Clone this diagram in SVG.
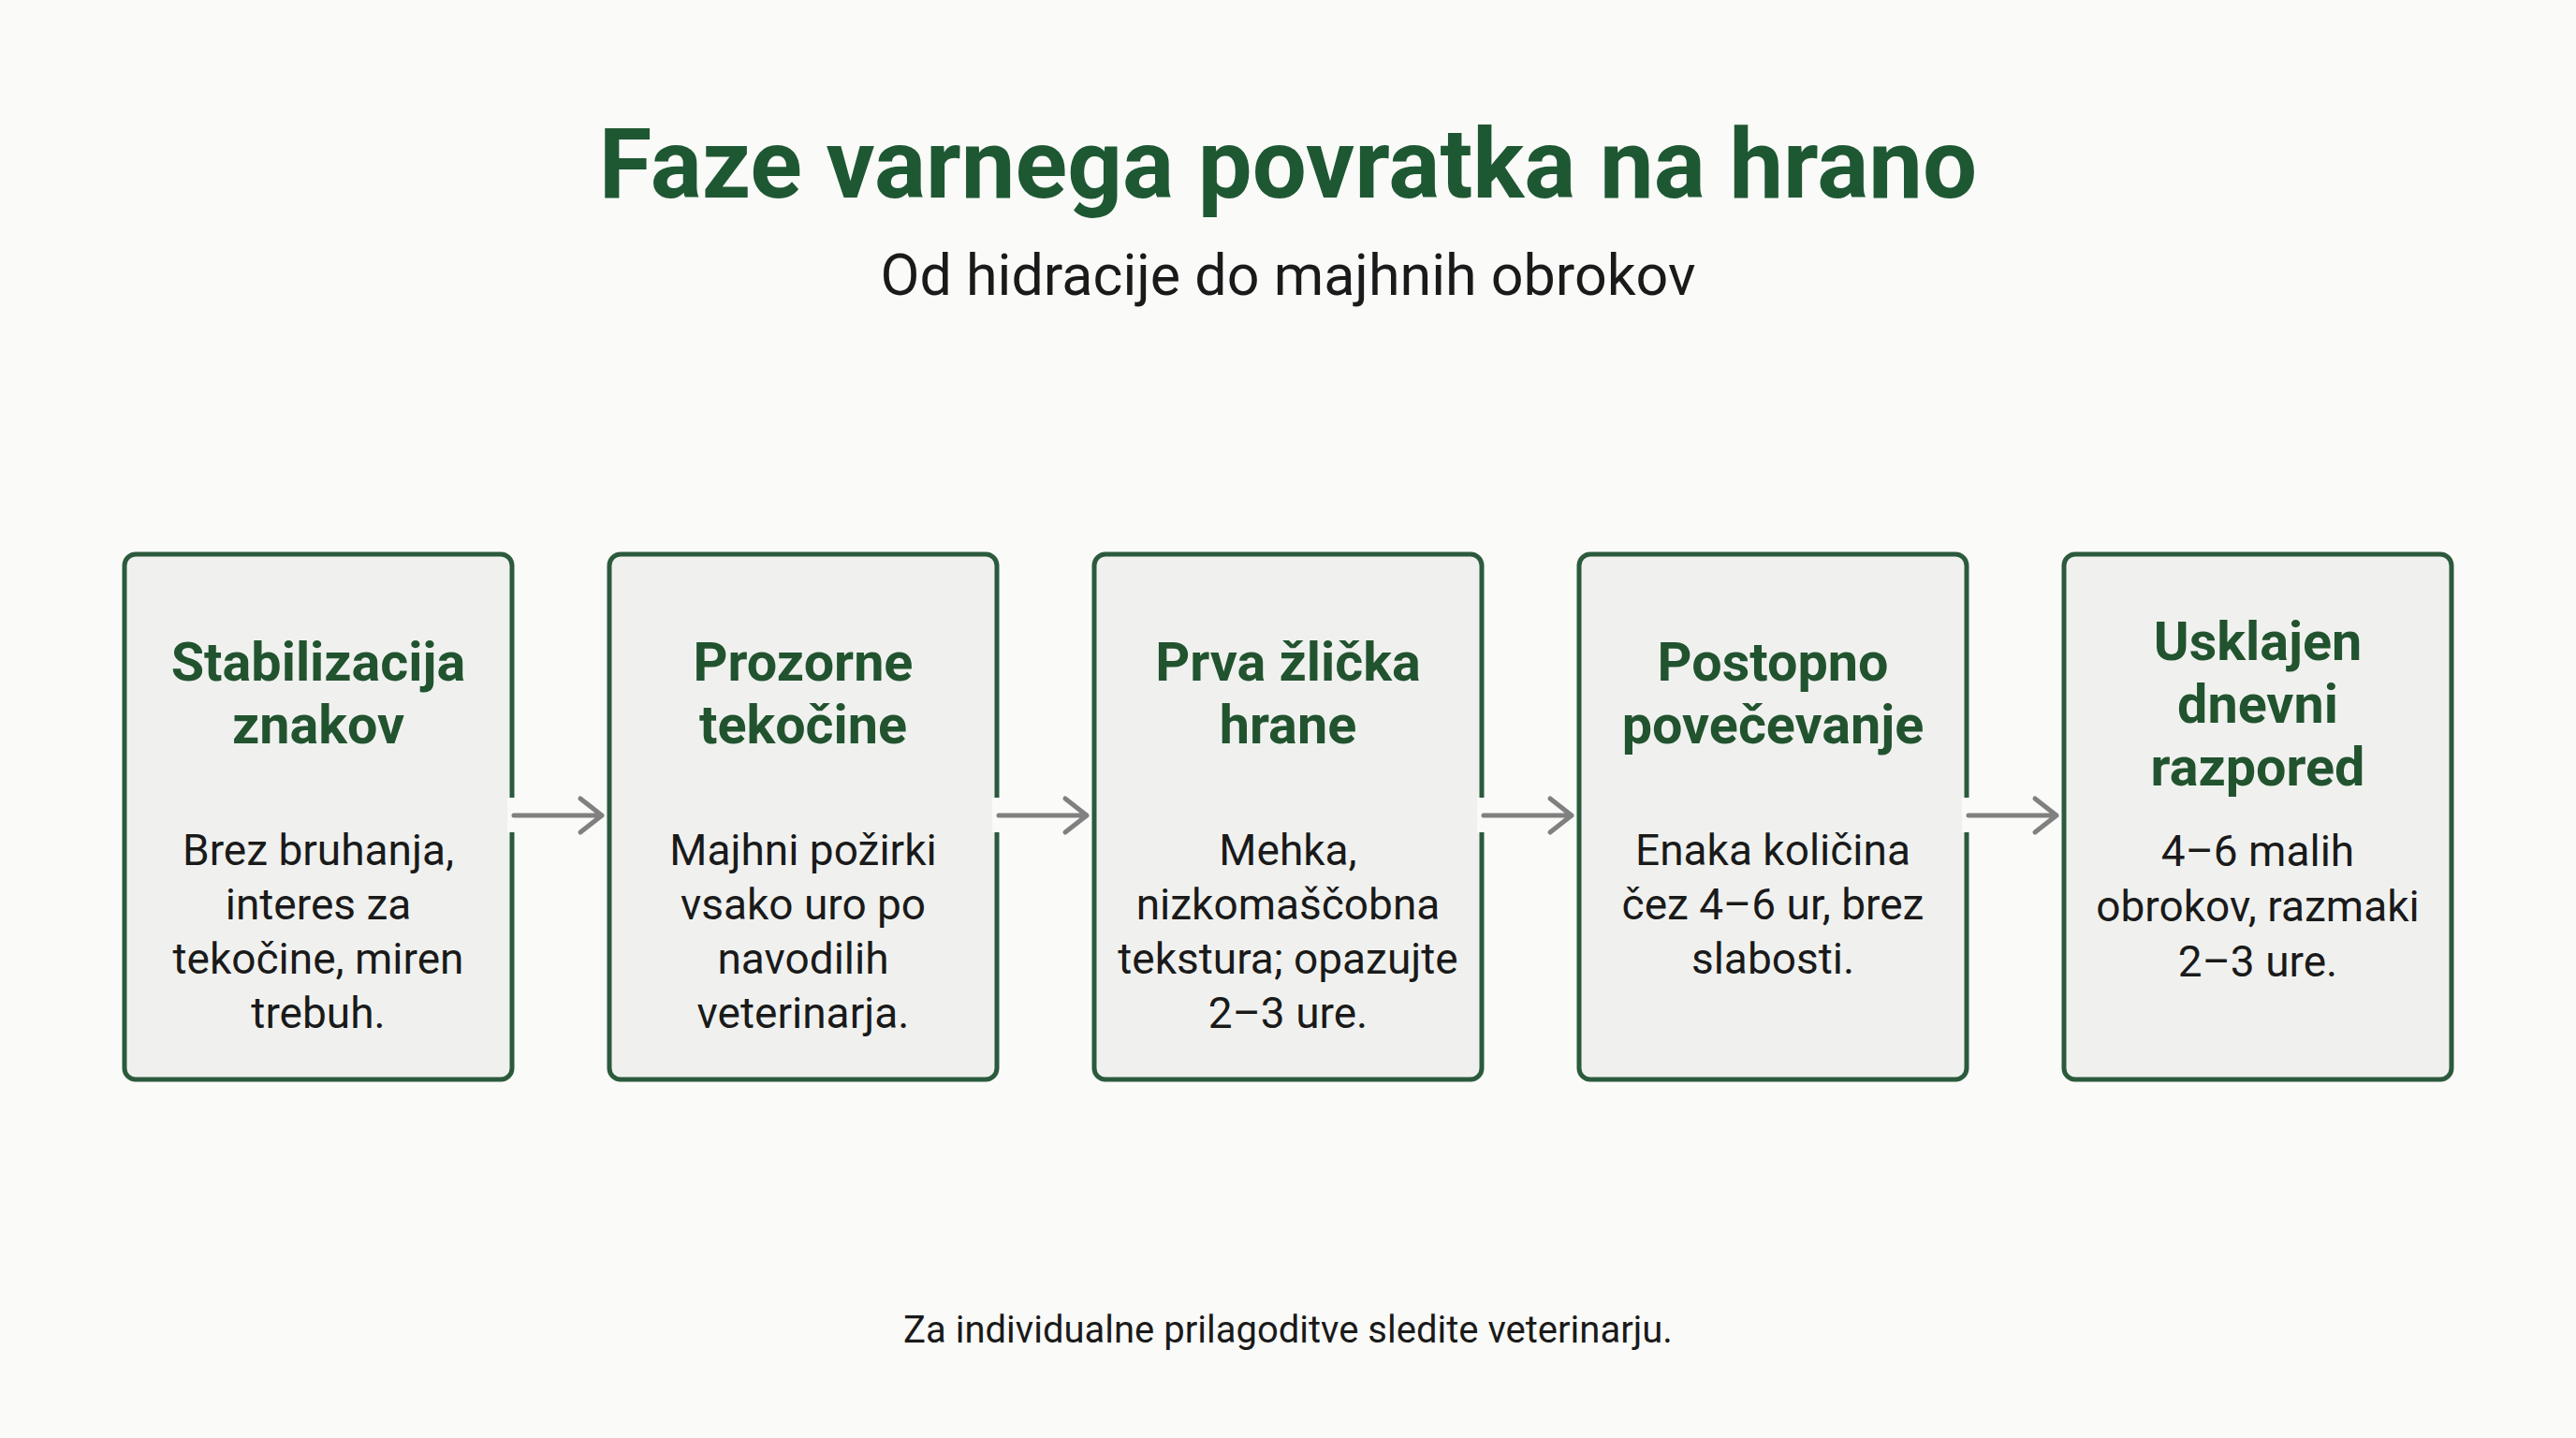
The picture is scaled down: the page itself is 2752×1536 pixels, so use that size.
<svg xmlns="http://www.w3.org/2000/svg" width="2752" height="1536" viewBox="0 0 2752 1536">
<style>
.bg{fill:#fafaf8}
.box{fill:#f0f1ef;stroke:#2b5a3c;stroke-width:5}
.gap{fill:#fafaf8}
.title{font-family:Roboto,"Liberation Sans",sans-serif;font-weight:700;font-size:103px;fill:#1e5833;text-anchor:middle}
.sub{font-family:Roboto,"Liberation Sans",sans-serif;font-size:61px;fill:#1a1a1a;text-anchor:middle}
.foot{font-family:Roboto,"Liberation Sans",sans-serif;font-size:40px;fill:#1a1a1a;text-anchor:middle}
.nt{font-family:Roboto,"Liberation Sans",sans-serif;font-weight:700;font-size:57.5px;fill:#22532f;text-anchor:middle}
.nd{font-family:Roboto,"Liberation Sans",sans-serif;font-size:46px;fill:#1a1a1a;text-anchor:middle}
.conn{fill:none;stroke:#808080;stroke-width:5;stroke-linecap:round;stroke-linejoin:round}
</style>
<rect class="bg" x="0" y="0" width="2752" height="1536"/>
<text class="title" x="1376" y="211">Faze varnega povratka na hrano</text>
<text class="sub" x="1376" y="315">Od hidracije do majhnih obrokov</text>

<g id="node1">
<rect class="box" x="133" y="592" width="414" height="561" rx="12"/>
<text class="nt" x="340" y="727">Stabilizacija</text>
<text class="nt" x="340" y="794">znakov</text>
<text class="nd" x="340" y="924">Brez bruhanja,</text>
<text class="nd" x="340" y="982">interes za</text>
<text class="nd" x="340" y="1040">tekočine, miren</text>
<text class="nd" x="340" y="1098">trebuh.</text>
</g>
<g id="node2">
<rect class="box" x="651" y="592" width="414" height="561" rx="12"/>
<text class="nt" x="858" y="727">Prozorne</text>
<text class="nt" x="858" y="794">tekočine</text>
<text class="nd" x="858" y="924">Majhni požirki</text>
<text class="nd" x="858" y="982">vsako uro po</text>
<text class="nd" x="858" y="1040">navodilih</text>
<text class="nd" x="858" y="1098">veterinarja.</text>
</g>
<g id="node3">
<rect class="box" x="1169" y="592" width="414" height="561" rx="12"/>
<text class="nt" x="1376" y="727">Prva žlička</text>
<text class="nt" x="1376" y="794">hrane</text>
<text class="nd" x="1376" y="924">Mehka,</text>
<text class="nd" x="1376" y="982">nizkomaščobna</text>
<text class="nd" x="1376" y="1040">tekstura; opazujte</text>
<text class="nd" x="1376" y="1098">2–3 ure.</text>
</g>
<g id="node4">
<rect class="box" x="1687" y="592" width="414" height="561" rx="12"/>
<text class="nt" x="1894" y="727">Postopno</text>
<text class="nt" x="1894" y="794">povečevanje</text>
<text class="nd" x="1894" y="924">Enaka količina</text>
<text class="nd" x="1894" y="982">čez 4–6 ur, brez</text>
<text class="nd" x="1894" y="1040">slabosti.</text>
</g>
<g id="node5">
<rect class="box" x="2205" y="592" width="414" height="561" rx="12"/>
<text class="nt" x="2412" y="705">Usklajen</text>
<text class="nt" x="2412" y="772">dnevni</text>
<text class="nt" x="2412" y="839">razpored</text>
<text class="nd" x="2412" y="925">4–6 malih</text>
<text class="nd" x="2412" y="984">obrokov, razmaki</text>
<text class="nd" x="2412" y="1043">2–3 ure.</text>
</g>

<g id="connectors">
<rect class="gap" x="542" y="852" width="10" height="37"/>
<rect class="gap" x="1060" y="852" width="10" height="37"/>
<rect class="gap" x="1578" y="852" width="10" height="37"/>
<rect class="gap" x="2096" y="852" width="10" height="37"/>
<path class="conn" d="M549 871H643M620 853L643 871L620 889"/>
<path class="conn" d="M1067 871H1161M1138 853L1161 871L1138 889"/>
<path class="conn" d="M1585 871H1679M1656 853L1679 871L1656 889"/>
<path class="conn" d="M2103 871H2197M2174 853L2197 871L2174 889"/>
</g>

<text class="foot" x="1376" y="1434">Za individualne prilagoditve sledite veterinarju.</text>
</svg>
